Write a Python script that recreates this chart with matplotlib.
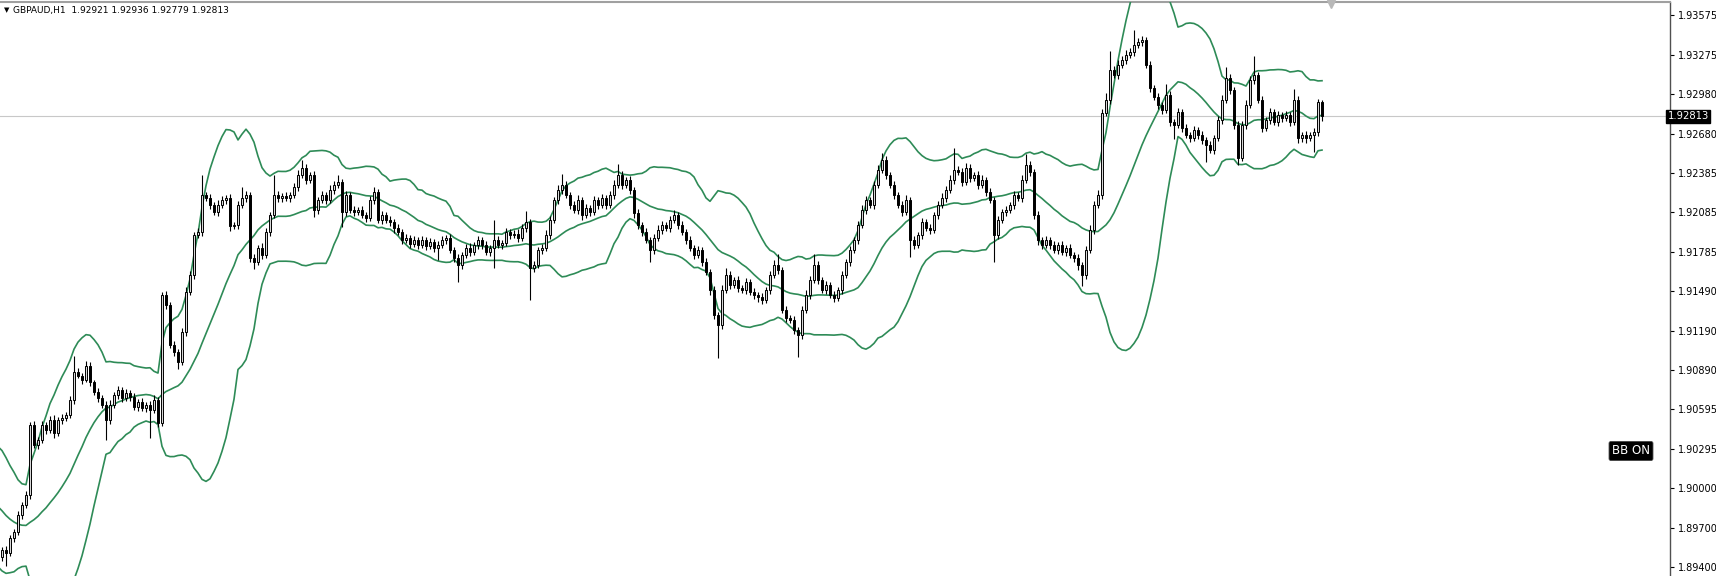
#!/usr/bin/env python3
"""GBPAUD H1 candles with Bollinger Bands (20, 2), MT4 style."""

import numpy as np
import pandas as pd
import matplotlib

matplotlib.use("Agg")
import matplotlib.pyplot as plt

header = "GBPAUD,H1  1.92921 1.92936 1.92779 1.92813"
last_price = 1.92813

# closes before the first visible bar (only feed the bands)
warmup = [1.9015, 1.9022, 1.9018, 1.9010, 1.9012, 1.9003, 1.8998, 1.9001, 1.8992, 1.8985,
          1.8980, 1.8984, 1.8975, 1.8968, 1.8972, 1.8963, 1.8958, 1.8961, 1.8952, 1.8948]

closes = [
    1.89531, 1.89508, 1.89622, 1.89667, 1.89795, 1.89871, 1.89947, 1.90476, 1.90325, 1.90363,
    1.90476, 1.90439, 1.90514, 1.90416, 1.90514, 1.90529, 1.90552, 1.90665, 1.90880, 1.90850,
    1.90820, 1.90920, 1.90800, 1.90726, 1.90680, 1.90628, 1.90514, 1.90628, 1.90703, 1.90741,
    1.90680, 1.90718, 1.90688, 1.90612, 1.90650, 1.90605, 1.90628, 1.90590, 1.90665, 1.90491,
    1.91460, 1.91384, 1.91081, 1.91028, 1.90953, 1.91180, 1.91482, 1.91611, 1.91913, 1.91936,
    1.92216, 1.92193, 1.92140, 1.92087, 1.92140, 1.92178, 1.92193, 1.91982, 1.91989, 1.92140,
    1.92193, 1.92216, 1.91739, 1.91709, 1.91815, 1.91762, 1.91936, 1.92065, 1.92216, 1.92193,
    1.92208, 1.92193, 1.92216, 1.92277, 1.92367, 1.92420, 1.92330, 1.92367, 1.92103, 1.92178,
    1.92216, 1.92178, 1.92254, 1.92292, 1.92314, 1.92087, 1.92216, 1.92103, 1.92087, 1.92103,
    1.92065, 1.92042, 1.92178, 1.92239, 1.92027, 1.92065, 1.92027, 1.92012, 1.91966, 1.91936,
    1.91875, 1.91891, 1.91845, 1.91875, 1.91838, 1.91875, 1.91830, 1.91860, 1.91815, 1.91838,
    1.91875, 1.91891, 1.91800, 1.91739, 1.91687, 1.91762, 1.91815, 1.91785, 1.91838, 1.91875,
    1.91838, 1.91785, 1.91815, 1.91875, 1.91838, 1.91853, 1.91936, 1.91913, 1.91921, 1.91891,
    1.91966, 1.92012, 1.91664, 1.91687, 1.91800, 1.91815, 1.91913, 1.92027, 1.92178, 1.92254,
    1.92292, 1.92216, 1.92140, 1.92103, 1.92178, 1.92065, 1.92118, 1.92087, 1.92178, 1.92140,
    1.92193, 1.92140, 1.92216, 1.92292, 1.92367, 1.92292, 1.92330, 1.92254, 1.92080, 1.91989,
    1.91936, 1.91875, 1.91800, 1.91891, 1.91951, 1.91989, 1.91966, 1.92027, 1.92065, 1.91989,
    1.91936, 1.91875, 1.91815, 1.91762, 1.91800, 1.91709, 1.91634, 1.91497, 1.91308, 1.91233,
    1.91497, 1.91611, 1.91535, 1.91573, 1.91513, 1.91497, 1.91558, 1.91482, 1.91460, 1.91444,
    1.91422, 1.91497, 1.91611, 1.91687, 1.91649, 1.91346, 1.91286, 1.91271, 1.91195, 1.91157,
    1.91346, 1.91460, 1.91573, 1.91687, 1.91573, 1.91497, 1.91535, 1.91460, 1.91437, 1.91497,
    1.91611, 1.91709, 1.91800, 1.91875, 1.91989, 1.92103, 1.92178, 1.92140, 1.92292, 1.92405,
    1.92481, 1.92367, 1.92292, 1.92216, 1.92140, 1.92087, 1.92178, 1.91875, 1.91838, 1.91913,
    1.92012, 1.91966, 1.91951, 1.92065, 1.92140, 1.92193, 1.92254, 1.92330, 1.92405, 1.92390,
    1.92314, 1.92420, 1.92345, 1.92367, 1.92292, 1.92330, 1.92239, 1.92178, 1.91913, 1.92027,
    1.92087, 1.92103, 1.92140, 1.92216, 1.92193, 1.92330, 1.92443, 1.92390, 1.92065, 1.91875,
    1.91838, 1.91875, 1.91838, 1.91800, 1.91838, 1.91785, 1.91815, 1.91762, 1.91739, 1.91687,
    1.91611, 1.91800, 1.91951, 1.92140, 1.92216, 1.92836, 1.92935, 1.93162, 1.93124, 1.93199,
    1.93237, 1.93275, 1.93298, 1.93351, 1.93373, 1.93388, 1.93199, 1.93025, 1.92957, 1.92897,
    1.92859, 1.92972, 1.92768, 1.92746, 1.92844, 1.92723, 1.92670, 1.92647, 1.92708, 1.92670,
    1.92632, 1.92594, 1.92556, 1.92647, 1.92783, 1.92935, 1.93101, 1.93010, 1.92746, 1.92496,
    1.92746, 1.92897, 1.93086, 1.93124, 1.92935, 1.92723, 1.92783, 1.92844, 1.92768, 1.92821,
    1.92798, 1.92821, 1.92768, 1.92935, 1.92647, 1.92670, 1.92647, 1.92670, 1.92693, 1.92921,
    1.92813,
]

# wick lengths beyond the body, in pips
wick_hi = [
    2, 3, 2, 2, 3, 2, 3, 2, 3, 2,
    3, 2, 3, 4, 2, 3, 2, 3, 12, 3,
    2, 4, 3, 2, 3, 2, 3, 4, 2, 3,
    2, 3, 2, 3, 2, 3, 2, 3, 4, 2,
    2, 3, 2, 3, 2, 3, 4, 3, 2, 3,
    15, 2, 3, 2, 4, 3, 2, 3, 2, 3,
    8, 3, 2, 3, 2, 4, 3, 2, 15, 3,
    2, 3, 2, 3, 4, 6, 3, 2, 3, 2,
    3, 2, 4, 3, 5, 2, 3, 2, 3, 2,
    3, 2, 3, 4, 2, 3, 2, 3, 2, 3,
    2, 3, 2, 3, 2, 3, 2, 3, 2, 3,
    3, 2, 3, 2, 3, 2, 3, 4, 2, 3,
    2, 3, 2, 15, 3, 2, 3, 2, 3, 4,
    3, 8, 2, 3, 2, 3, 4, 3, 2, 4,
    8, 3, 2, 3, 4, 2, 3, 2, 3, 2,
    3, 2, 3, 4, 8, 3, 2, 3, 2, 3,
    2, 3, 2, 3, 4, 3, 2, 3, 4, 2,
    3, 2, 3, 2, 3, 2, 3, 2, 3, 2,
    4, 5, 3, 2, 3, 2, 3, 2, 3, 2,
    3, 2, 3, 4, 8, 2, 3, 2, 3, 2,
    3, 4, 3, 8, 3, 2, 3, 2, 3, 2,
    3, 2, 3, 2, 3, 4, 3, 2, 3, 4,
    5, 3, 2, 3, 2, 3, 4, 2, 3, 2,
    3, 2, 3, 2, 3, 4, 3, 4, 17, 3,
    3, 4, 3, 2, 3, 4, 2, 3, 2, 3,
    2, 3, 2, 3, 2, 4, 8, 3, 2, 3,
    2, 3, 2, 3, 2, 3, 2, 3, 2, 3,
    2, 3, 4, 3, 4, 3, 5, 14, 3, 4,
    3, 4, 3, 11, 3, 3, 2, 3, 2, 3,
    2, 8, 3, 2, 3, 2, 3, 2, 3, 2,
    3, 2, 3, 2, 3, 4, 8, 3, 2, 3,
    3, 4, 3, 14, 2, 3, 2, 3, 2, 3,
    2, 3, 2, 8, 3, 2, 3, 2, 3, 2,
    1.5,
]

wick_lo = [
    3, 10, 2, 3, 2, 3, 2, 3, 2, 3,
    2, 3, 2, 4, 2, 3, 2, 2, 3, 2,
    3, 2, 3, 2, 3, 2, 15, 3, 2, 3,
    3, 2, 3, 2, 3, 2, 3, 21, 2, 3,
    2, 3, 2, 3, 5, 2, 3, 2, 3, 2,
    3, 2, 3, 2, 3, 2, 3, 4, 2, 3,
    2, 3, 3, 5, 2, 3, 2, 3, 2, 3,
    3, 2, 3, 2, 3, 2, 3, 2, 5, 3,
    2, 3, 2, 3, 2, 11, 3, 2, 3, 2,
    2, 3, 2, 3, 2, 3, 2, 3, 4, 2,
    3, 2, 3, 2, 3, 2, 3, 2, 3, 9,
    2, 3, 2, 3, 13, 3, 2, 3, 2, 3,
    3, 2, 3, 15, 2, 3, 2, 3, 2, 3,
    2, 3, 24, 3, 2, 3, 2, 3, 2, 3,
    3, 2, 3, 2, 3, 4, 2, 3, 2, 3,
    2, 3, 2, 3, 2, 3, 2, 3, 4, 3,
    3, 2, 9, 3, 2, 3, 2, 3, 2, 3,
    2, 3, 2, 3, 2, 3, 2, 4, 3, 25,
    3, 2, 3, 2, 3, 2, 3, 2, 3, 4,
    3, 2, 3, 2, 3, 2, 3, 2, 3, 17,
    3, 2, 3, 2, 3, 2, 3, 2, 3, 2,
    3, 2, 3, 2, 3, 2, 3, 2, 3, 2,
    2, 3, 2, 3, 2, 3, 2, 13, 3, 2,
    3, 2, 3, 2, 3, 2, 3, 2, 3, 2,
    3, 2, 3, 2, 3, 2, 3, 2, 20, 3,
    2, 3, 2, 3, 2, 3, 2, 3, 3, 4,
    3, 2, 3, 2, 3, 2, 3, 2, 3, 4,
    8, 3, 2, 3, 2, 3, 2, 3, 2, 3,
    2, 3, 2, 3, 2, 3, 2, 3, 2, 3,
    3, 2, 3, 11, 2, 3, 2, 3, 2, 3,
    3, 13, 2, 3, 2, 3, 2, 3, 3, 5,
    2, 3, 2, 3, 2, 3, 2, 3, 2, 3,
    3, 2, 3, 2, 4, 3, 4, 2, 13, 3,
    3.4,
]

price_ticks = [1.93575, 1.93275, 1.92980, 1.92680, 1.92385, 1.92085, 1.91785, 1.91490,
               1.91190, 1.90890, 1.90595, 1.90295, 1.90000, 1.89700, 1.89400]

BB_PERIOD = 20
BB_DEV = 2.0
PIP = 0.0001


def main() -> None:
    c = np.array(closes)
    o = np.concatenate([[warmup[-1]], c[:-1]])
    hi = np.maximum(o, c) + np.array(wick_hi) * PIP
    lo = np.minimum(o, c) - np.array(wick_lo) * PIP
    x = np.arange(len(c))

    s = pd.Series(np.concatenate([warmup, c]))
    mid = s.rolling(BB_PERIOD).mean()
    sd = s.rolling(BB_PERIOD).std(ddof=0)
    xb = np.arange(-len(warmup), len(c))

    W, H = 1716, 576
    fig = plt.figure(figsize=(W / 100, H / 100), dpi=100, facecolor="white")
    ax = fig.add_axes([0, 0, 1670 / W, 574 / H])
    ax.set_xlim(-0.5, 417.0)
    ax.set_ylim(1.89334, 1.93676)

    green = "#2e8b57"
    for band in (mid + BB_DEV * sd, mid, mid - BB_DEV * sd):
        ax.plot(xb, band, color=green, lw=1.2, zorder=3)

    ax.axhline(last_price, color="#c8c8c8", lw=0.8, zorder=1)

    ax.vlines(x, lo, hi, color="black", lw=0.8, zorder=4)
    up = c >= o
    ax.bar(x[up], (c - o)[up], bottom=o[up], width=0.62, facecolor="#d8d8d8",
           edgecolor="black", linewidth=0.7, zorder=5)
    ax.bar(x[~up], (o - c)[~up], bottom=c[~up], width=0.62, facecolor="black",
           edgecolor="black", linewidth=0.7, zorder=5)

    for side in ("left", "bottom"):
        ax.spines[side].set_visible(False)
    ax.spines["top"].set_color("#a0a0a0")
    ax.spines["top"].set_linewidth(1.5)
    ax.spines["right"].set_color("#505050")
    ax.spines["right"].set_linewidth(1.0)

    ax.set_xticks([])
    ax.yaxis.tick_right()
    ax.set_yticks(price_ticks)
    ax.set_yticklabels([f"{p:.5f}" for p in price_ticks])
    ax.tick_params(axis="y", direction="out", length=3, width=0.8, pad=3,
                   labelsize=7, colors="black")

    ax.text(0.9985, last_price, "1.92813", transform=ax.get_yaxis_transform(),
            ha="left", va="center", fontsize=7.2, color="white", zorder=10,
            bbox=dict(boxstyle="square,pad=0.15", fc="black", ec="black"))

    fig.text(1631 / W, 1 - 451 / H, "BB ON", ha="center", va="center", fontsize=8.5,
             color="white", bbox=dict(boxstyle="round,pad=0.25,rounding_size=0.15",
                                      fc="black", ec="#404040", lw=0.6))

    fig.text(4 / W, 1 - 10 / H, "\u25bc", ha="left", va="center", fontsize=5, color="black")
    fig.text(13 / W, 1 - 10 / H, header, ha="left", va="center", fontsize=6.5, color="black")
    fig.lines.append(plt.Line2D([1331 / W], [1 - 4 / H], marker="v", ms=6, color="#b8b8b8",
                                transform=fig.transFigure, figure=fig))

    fig.savefig("out.png", dpi=100, facecolor="white")


if __name__ == "__main__":
    main()
